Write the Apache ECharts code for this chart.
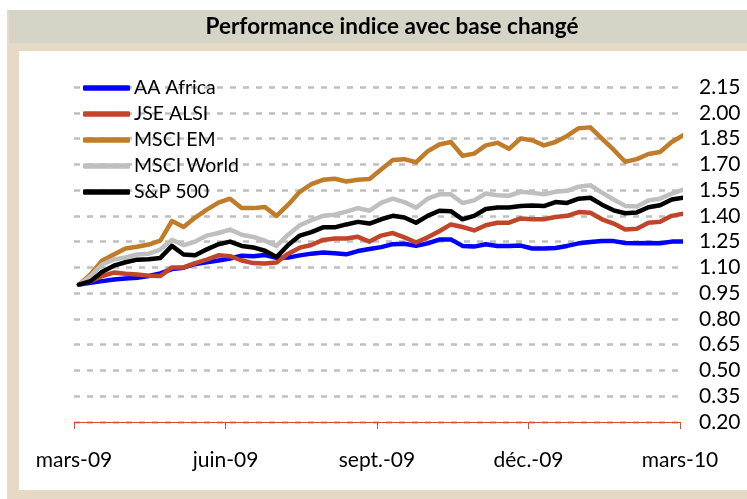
<!DOCTYPE html>
<html>
<head>
<meta charset="utf-8">
<script src="https://cdn.jsdelivr.net/npm/echarts@6/dist/echarts.min.js"></script>
<style>html,body{margin:0;padding:0;background:#fff}#c{width:747px;height:499px}</style>
</head>
<body>
<div id="c"></div>
<script>
const title = 'Performance indice avec base changé';
const tickLabels = ['mars-09', 'juin-09', 'sept.-09', 'déc.-09', 'mars-10'];
const weeks = ['2009-03-04','2009-03-11','2009-03-18','2009-03-25','2009-04-01','2009-04-08','2009-04-15','2009-04-22','2009-04-29',
  '2009-05-06','2009-05-13','2009-05-20','2009-05-27','2009-06-03','2009-06-10','2009-06-17','2009-06-24',
  '2009-07-01','2009-07-08','2009-07-15','2009-07-22','2009-07-29','2009-08-05','2009-08-12','2009-08-19','2009-08-26',
  '2009-09-02','2009-09-09','2009-09-16','2009-09-23','2009-09-30','2009-10-07','2009-10-14','2009-10-21','2009-10-28',
  '2009-11-04','2009-11-11','2009-11-18','2009-11-25','2009-12-02','2009-12-09','2009-12-16','2009-12-23','2009-12-30',
  '2010-01-06','2010-01-13','2010-01-20','2010-01-27','2010-02-03','2010-02-10','2010-02-17','2010-02-24','2010-03-03'];
const seriesNames = ['AA Africa', 'JSE ALSI', 'MSCI EM', 'MSCI World', 'S&P 500'];
const aaAfrica = [1.00,1.01,1.02,1.03,1.035,1.04,1.05,1.065,1.09,1.098,1.12,1.13,1.14,1.152,
  1.168,1.165,1.172,1.155,1.157,1.17,1.18,1.186,1.182,1.176,1.195,1.207,1.218,
  1.235,1.238,1.225,1.24,1.262,1.263,1.225,1.221,1.235,1.225,1.225,1.227,1.21,
  1.21,1.213,1.225,1.24,1.248,1.254,1.253,1.242,1.24,1.242,1.24,1.25,1.25];
const jseAlsi = [1.00,1.02,1.05,1.07,1.063,1.058,1.052,1.05,1.10,1.10,1.125,1.145,1.17,1.165,
  1.14,1.125,1.123,1.128,1.18,1.215,1.23,1.26,1.268,1.268,1.278,1.25,1.285,
  1.30,1.275,1.245,1.275,1.31,1.35,1.335,1.315,1.345,1.36,1.36,1.385,1.38,
  1.38,1.393,1.40,1.422,1.418,1.38,1.355,1.32,1.325,1.36,1.365,1.40,1.413];
const msciEm = [1.00,1.06,1.14,1.175,1.21,1.22,1.233,1.256,1.37,1.335,1.39,1.436,1.477,1.50,
  1.445,1.445,1.452,1.40,1.465,1.54,1.585,1.61,1.616,1.60,1.61,1.615,1.67,
  1.725,1.73,1.712,1.775,1.815,1.83,1.75,1.762,1.81,1.825,1.79,1.85,1.84,
  1.81,1.83,1.865,1.91,1.915,1.85,1.785,1.715,1.73,1.76,1.772,1.83,1.87];
const msciWorld = [1.00,1.05,1.117,1.146,1.158,1.175,1.18,1.204,1.26,1.23,1.25,1.285,1.30,1.32,
  1.29,1.277,1.255,1.225,1.29,1.345,1.375,1.40,1.407,1.425,1.445,1.43,1.475,
  1.50,1.48,1.447,1.50,1.525,1.525,1.475,1.49,1.53,1.52,1.517,1.54,1.535,
  1.525,1.54,1.546,1.57,1.578,1.535,1.495,1.458,1.455,1.49,1.50,1.53,1.553];
const sp500 = [1.00,1.02,1.075,1.11,1.13,1.145,1.148,1.155,1.225,1.175,1.17,1.205,1.235,1.25,
  1.225,1.216,1.197,1.16,1.23,1.285,1.305,1.333,1.333,1.35,1.365,1.355,1.38,
  1.40,1.39,1.36,1.40,1.43,1.427,1.38,1.40,1.44,1.448,1.448,1.457,1.46,
  1.457,1.48,1.475,1.50,1.505,1.465,1.432,1.415,1.42,1.45,1.462,1.495,1.506];

const colors = ['#0000ff', '#c0452a', '#c17c2a', '#bfbfbf', '#000000'];
const allValues = [aaAfrica, jseAlsi, msciEm, msciWorld, sp500];
const DAY = 86400000;
const origin = Date.UTC(2009, 2, 1);
const dayOffsets = weeks.map(d => (Date.parse(d + 'T00:00:00Z') - origin) / DAY);
const FONT = 'Lato';

const chart = echarts.init(document.getElementById('c'), null, {renderer: 'canvas'});
chart.setOption({
  animation: false,
  backgroundColor: '#ffffff',
  color: colors,
  graphic: [
    {type: 'rect', z: -10, shape: {x: 7, y: 10, width: 740, height: 489}, style: {fill: '#e6dac4'}},
    {type: 'rect', z: -9, shape: {x: 9, y: 10, width: 738, height: 33}, style: {fill: '#d6d4c6'}},
    {type: 'rect', z: -8, shape: {x: 19, y: 51, width: 728, height: 439}, style: {fill: '#ffffff'}},
    {type: 'text', z: 10, x: 392, y: 27, style: {text: title, fill: '#000', font: 'bold 22.5px ' + FONT, align: 'center', verticalAlign: 'middle'}}
  ],
  legend: {
    orient: 'vertical', left: 78, top: 73,
    itemWidth: 47, itemHeight: 5.5, itemGap: 6,
    icon: 'roundRect',
    textStyle: {fontFamily: FONT, fontSize: 19.5, color: '#000', lineHeight: 20, padding: [0, 0, 0, -1]},
    data: seriesNames
  },
  grid: {left: 74, right: 67, top: 87, bottom: 77, containLabel: false},
  xAxis: {
    type: 'value', min: 0, max: 365, interval: 91.25,
    axisLine: {show: true, lineStyle: {color: '#c8553a', width: 1}},
    axisTick: {show: true, inside: false, length: 7, lineStyle: {color: '#c8553a'}},
    splitLine: {show: false},
    axisLabel: {
      margin: 28, color: '#000', fontFamily: FONT, fontSize: 21,
      formatter: v => tickLabels[Math.round(v / 91.25)] || ''
    }
  },
  yAxis: {
    type: 'value', position: 'right', min: 0.2, max: 2.15, interval: 0.15,
    axisLine: {show: false}, axisTick: {show: false},
    axisLabel: {margin: 19, color: '#000', fontFamily: FONT, fontSize: 21, align: 'left', formatter: v => v.toFixed(2)},
    splitLine: {show: true, lineStyle: {color: '#bfbfbf', width: 2.5, type: [6, 7]}}
  },
  series: seriesNames.map((name, k) => ({
    name, type: 'line', showSymbol: false, symbol: 'none',
    lineStyle: {width: 4.5, color: colors[k], cap: 'round', join: 'round'},
    itemStyle: {color: colors[k]},
    data: dayOffsets.map((d, i) => [d, allValues[k][i]])
  }))
});
</script>
</body>
</html>
